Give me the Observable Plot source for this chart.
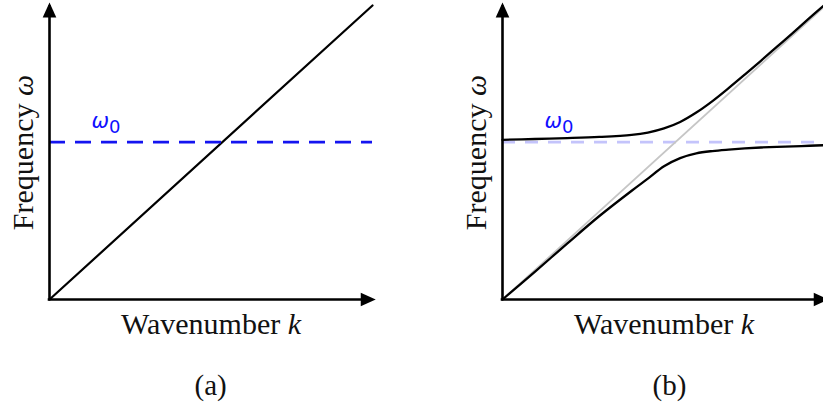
<!DOCTYPE html>
<html>
<head>
<meta charset="utf-8">
<script src="https://cdn.jsdelivr.net/npm/d3@7"></script>
<script src="https://cdn.jsdelivr.net/npm/@observablehq/plot@0.6"></script>
<style>
  html, body { margin: 0; padding: 0; background: #fff; overflow: hidden; }
  #figure { position: relative; width: 823px; height: 405px; overflow: hidden; font-family: "Liberation Serif", serif; }
  #figure svg { position: absolute; top: 0; overflow: visible; }
</style>
</head>
<body>
<div id="figure"></div>
<script>
// Dispersion of light (omega = c k) and of a resonance at omega0, in units where the
// light line reaches (1, 1) at the end of the drawn range.
const lightK = [0, 1];
const lightW = [0, 1];
const omega0 = 0.535;

// Coupled modes (polariton branches) sampled along k.
const branchK = [0, 0.1, 0.2, 0.3, 0.4, 0.45, 0.5, 0.55, 0.6, 0.65, 0.7, 0.75, 0.8, 0.85, 0.9, 0.95, 1.0];
const upperW  = [0.543, 0.546, 0.549, 0.553, 0.560, 0.568, 0.582, 0.604, 0.636, 0.675, 0.719, 0.765, 0.812, 0.860, 0.908, 0.957, 1.005];
const lowerW  = [0, 0.094, 0.190, 0.284, 0.370, 0.411, 0.453, 0.481, 0.497, 0.505, 0.510, 0.514, 0.517, 0.519, 0.521, 0.523, 0.525];

// Axis extents (arrow tips sit just beyond the data range).
const axisEnd = 0.995;
const arrowTip = 1.01;

const xLabel = "Wavenumber k";
const yLabel = "Frequency ω";
const modeLabel = "ω0";
const panelLetters = ["(a)", "(b)"];

const serifFont = "'Liberation Serif', serif";
const sansFont = "'DejaVu Sans', sans-serif";

// Filled arrow head with its tip at the anchor point, pointing up before rotation.
const arrowHead = {
  draw(ctx) {
    ctx.moveTo(0, 0);
    ctx.lineTo(-6.8, 15);
    ctx.lineTo(6.8, 15);
    ctx.closePath();
  }
};

function axesMarks() {
  return [
    Plot.ruleY([0], {x1: () => 0, x2: () => axisEnd, stroke: "black", strokeWidth: 2.6, strokeLinecap: "square"}),
    Plot.ruleX([0], {y1: () => 0, y2: () => axisEnd, stroke: "black", strokeWidth: 2.6, strokeLinecap: "square"}),
    Plot.dot([0], {x: () => 0, y: () => arrowTip, symbol: arrowHead, fill: "black", stroke: null}),
    Plot.dot([0], {x: () => arrowTip, y: () => 0, symbol: arrowHead, rotate: 90, fill: "black", stroke: null})
  ];
}

function labelMarks(letter, letterDx) {
  return [
    Plot.text([xLabel], {x: () => 0.5, frameAnchor: "bottom", dy: 34, lineAnchor: "bottom",
      fontFamily: serifFont, fontSize: 30, fill: "#111"}),
    Plot.text([yLabel], {x: () => 0, y: () => 0.5, dx: -17, rotate: -90, lineAnchor: "bottom",
      fontFamily: serifFont, fontSize: 30, fill: "#111"}),
    Plot.text([letter], {frameAnchor: "bottom-left", dx: letterDx, dy: 95, lineAnchor: "bottom",
      fontFamily: serifFont, fontSize: 29, fill: "#111"}),
    Plot.text([modeLabel], {x: () => 0.13, y: () => omega0, dy: -14, textAnchor: "start", lineAnchor: "bottom",
      fontFamily: sansFont, fontSize: 21, fill: "#1010ff"})
  ];
}

function makePanel({width, marginLeft, marks}) {
  return Plot.plot({
    width, height: 405,
    marginLeft, marginRight: width - marginLeft - 323,
    marginTop: 5, marginBottom: 106,
    x: {domain: [0, 1], axis: null},
    y: {domain: [0, 1], axis: null},
    style: {background: "transparent", overflow: "visible", fontFamily: serifFont},
    marks
  });
}

// Italic variables and the subscript on omega0.
function styleText(svg) {
  d3.select(svg).selectAll("text").each(function () {
    const t = d3.select(this);
    const s = t.text();
    if (s === modeLabel) {
      t.style("font-family", sansFont).text(null);
      t.append("tspan").attr("font-style", "italic").text("ω");
      t.append("tspan").attr("font-size", 18).attr("dy", 5).text("0");
      return;
    }
    t.style("font-family", serifFont);
    if (s === xLabel || s === yLabel) {
      const parts = s.split(" ");
      t.text(null);
      t.append("tspan").text(parts[0] + " ");
      t.append("tspan").attr("font-style", "italic").text(parts[1]);
    }
  });
  return svg;
}

// (a) uncoupled: light line crossing the flat resonance
const panelA = makePanel({
  width: 411, marginLeft: 49,
  marks: [
    Plot.line(lightK, {x: lightK, y: lightW, stroke: "black", strokeWidth: 2.2}),
    Plot.ruleY([omega0], {x1: () => 0, x2: () => 1, stroke: "#1414f0", strokeWidth: 2.8, strokeDasharray: "16,10"}),
    ...axesMarks(),
    ...labelMarks(panelLetters[0], 145)
  ]
});

// (b) coupled: avoided crossing between the two branches
const panelB = makePanel({
  width: 414, marginLeft: 91,
  marks: [
    Plot.ruleY([omega0], {x1: () => 0, x2: () => 1, stroke: "#c4c4fb", strokeWidth: 2.8, strokeDasharray: "13,10"}),
    Plot.line(lightK, {x: lightK, y: lightW, stroke: "#c6c6c6", strokeWidth: 1.8}),
    Plot.line(branchK, {x: branchK, y: upperW, stroke: "black", strokeWidth: 2.3, curve: "catmull-rom"}),
    Plot.line(branchK, {x: branchK, y: lowerW, stroke: "black", strokeWidth: 2.3, curve: "catmull-rom"}),
    ...axesMarks(),
    ...labelMarks(panelLetters[1], 150)
  ]
});

const fig = document.getElementById("figure");
styleText(panelA).style.left = "0px";
styleText(panelB).style.left = "411px";
fig.append(panelA, panelB);
</script>
</body>
</html>
